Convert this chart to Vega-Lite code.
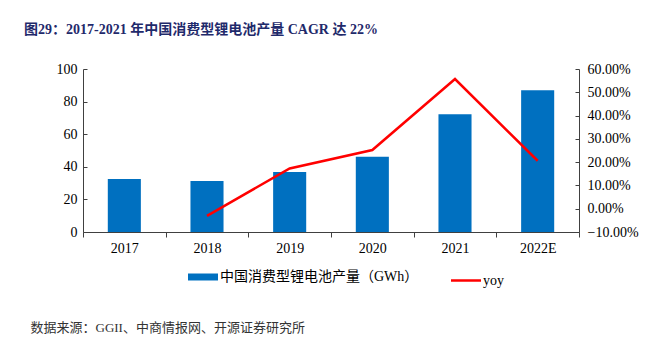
{
  "$schema": "https://vega.github.io/schema/vega-lite/v6.json",
  "width": 496,
  "height": 163,
  "autosize": {"type": "none"},
  "padding": {"left": 83, "top": 69, "right": 69, "bottom": 111},
  "background": "white",
  "config": {"view": {"stroke": null}, "font": "Liberation Serif, Noto Sans CJK SC"},
  "title": {
    "text": "图29：2017-2021 年中国消费型锂电池产量 CAGR 达 22%",
    "anchor": "start",
    "frame": "group",
    "dx": -59,
    "offset": 25,
    "fontSize": 14,
    "fontWeight": "bold",
    "color": "#1F2A6B",
    "font": "Liberation Serif, Noto Sans CJK SC"
  },
  "data": {
    "values": [
      {"year": "2017", "output": 32.5, "yoy": null},
      {"year": "2018", "output": 31.3, "yoy": -0.031},
      {"year": "2019", "output": 36.8, "yoy": 0.173},
      {"year": "2020", "output": 46.2, "yoy": 0.252},
      {"year": "2021", "output": 72.2, "yoy": 0.557},
      {"year": "2022E", "output": 86.9, "yoy": 0.206}
    ]
  },
  "encoding": {
    "x": {
      "field": "year",
      "type": "ordinal",
      "sort": null,
      "scale": {"paddingInner": 0, "paddingOuter": 0},
      "axis": {
        "title": "数据来源：GGII、中商情报网、开源证券研究所",
        "labelAngle": 0,
        "tickBand": "extent",
        "tickSize": 5,
        "labelPadding": 4,
        "labelFontSize": 14,
        "labelColor": "black",
        "domainColor": "#404040",
        "tickColor": "#404040",
        "titleX": -53,
        "titleY": 95,
        "titleAlign": "left",
        "titleBaseline": "middle",
        "titleFontSize": 13,
        "titleFontWeight": "normal",
        "titleColor": "#333333",
        "titleFont": "Liberation Serif, Noto Sans CJK SC",
        "titleLimit": 0
      }
    }
  },
  "layer": [
    {
      "mark": {"type": "bar", "width": {"band": 0.4}},
      "encoding": {
        "y": {
          "field": "output",
          "type": "quantitative",
          "scale": {"domain": [0, 100], "nice": false},
          "axis": {
            "orient": "left",
            "values": [0, 20, 40, 60, 80, 100],
            "title": null,
            "grid": false,
            "tickSize": -4,
            "labelPadding": 10,
            "labelFontSize": 14,
            "labelColor": "black",
            "domainColor": "#404040",
            "tickColor": "#404040"
          }
        },
        "color": {
          "datum": "中国消费型锂电池产量（GWh）",
          "scale": {"domain": ["中国消费型锂电池产量（GWh）", "yoy"], "range": ["#0070C0", "#FF0000"]},
          "legend": {
            "orient": "none",
            "legendX": 113,
            "legendY": 201,
            "direction": "horizontal",
            "title": null,
            "symbolType": "stroke",
            "symbolSize": 900,
            "labelFontSize": 14,
            "labelColor": "black",
            "labelOffset": 10,
            "labelLimit": 400,
            "columnPadding": 27,
            "labelFont": "Liberation Serif, Noto Sans CJK SC",
            "encode": {
              "symbols": {
                "update": {
                  "strokeWidth": {"signal": "datum.value === 'yoy' ? 2.5 : 7"},
                  "stroke": {"scale": "color", "field": "value"},
                  "fill": {"value": "transparent"}
                }
              }
            }
          }
        }
      }
    },
    {
      "mark": {"type": "line", "strokeWidth": 2.5},
      "encoding": {
        "y": {
          "field": "yoy",
          "type": "quantitative",
          "scale": {"domain": [-0.1, 0.6], "nice": false, "zero": false},
          "axis": {
            "orient": "right",
            "format": ".2%",
            "values": [-0.1, 0, 0.1, 0.2, 0.3, 0.4, 0.5, 0.6],
            "title": null,
            "grid": false,
            "tickSize": -4,
            "labelPadding": 12,
            "labelFontSize": 14,
            "labelColor": "black",
            "domainColor": "#404040",
            "tickColor": "#404040"
          }
        },
        "color": {"datum": "yoy"}
      }
    }
  ],
  "resolve": {"scale": {"y": "independent"}}
}
